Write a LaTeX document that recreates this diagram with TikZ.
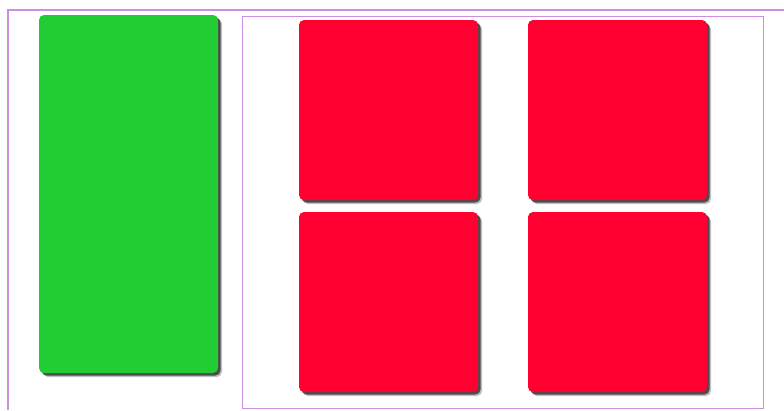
\documentclass[tikz,border=0pt]{standalone}
\begin{document}
\begin{tikzpicture}[x=1pt,y=-1pt,
  card/.style={rounded corners=5pt, draw=none, inner sep=0pt, outer sep=0pt}]
\definecolor{cgreen}{HTML}{22CC33}
\definecolor{cred}{HTML}{FF0030}
\definecolor{cframe}{HTML}{CC8FDD}
\useasboundingbox (0,0) rectangle (784,410);
\fill[white] (0,0) rectangle (784,410);
% outer frame
\coordinate (o1) at (8,410);
\coordinate (o2) at (8,10);
\coordinate (o3) at (784,10);
\draw[cframe, line width=1.3pt] (o1) -- (o2) -- (o3);
% inner frame
\node[draw=cframe, line width=1pt, inner sep=0pt, minimum width=521pt, minimum height=392pt, anchor=north west] (inner) at (242,16) {};
% shadows
\foreach \x/\y/\w/\h in {39/15/179/358, 299/20/179/180, 528/20/179/180, 299/212/179/180, 528/212/179/180}{
  \fill[black!25, rounded corners=5pt] (\x+4,\y+4) rectangle ++(\w,\h);
  \fill[black!70, rounded corners=5pt] (\x+2.5,\y+2.5) rectangle ++(\w,\h);
}
% cards
\node[card, fill=cgreen, minimum width=179pt, minimum height=358pt, anchor=north west] (green) at (39,15) {};
\node[card, fill=cred, minimum width=179pt, minimum height=180pt, anchor=north west] (r1) at (299,20) {};
\node[card, fill=cred, minimum width=179pt, minimum height=180pt, anchor=north west] (r2) at (528,20) {};
\node[card, fill=cred, minimum width=179pt, minimum height=180pt, anchor=north west] (r3) at (299,212) {};
\node[card, fill=cred, minimum width=179pt, minimum height=180pt, anchor=north west] (r4) at (528,212) {};
\end{tikzpicture}
\end{document}
